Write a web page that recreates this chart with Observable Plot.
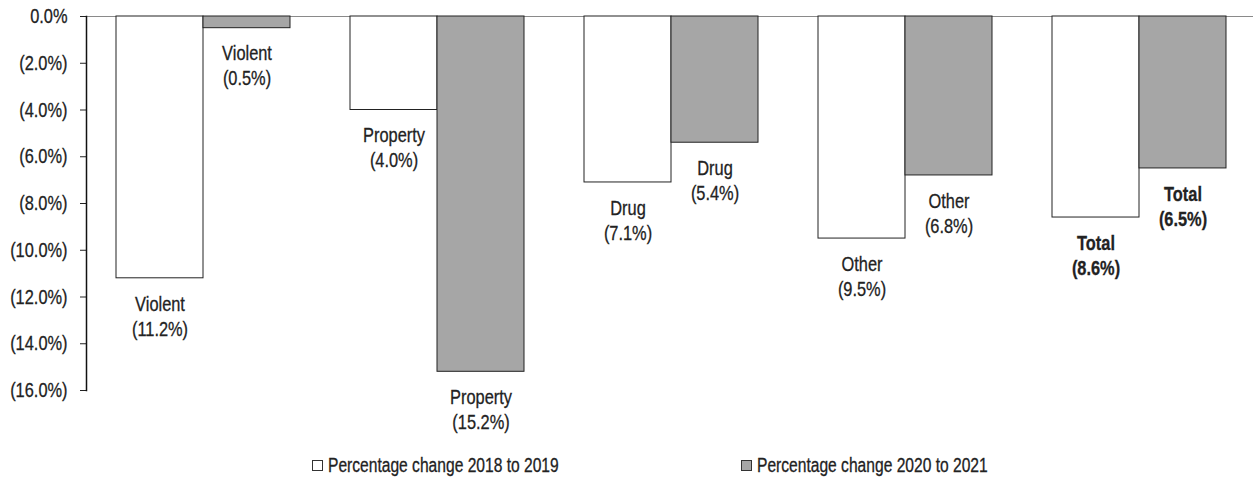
<!DOCTYPE html>
<html>
<head>
<meta charset="utf-8">
<script src="https://cdn.jsdelivr.net/npm/d3@7"></script>
<script src="https://cdn.jsdelivr.net/npm/@observablehq/plot@0.6"></script>
<style>
  html, body { margin: 0; padding: 0; background: #fff; }
  body { width: 1253px; height: 481px; overflow: hidden; font-family: "Liberation Sans", Arial, sans-serif; color: #222; }
  #chart { height: 440px; }
  #legend { position: relative; height: 41px; font-size: 20px; }
  .item { position: absolute; top: 14px; display: flex; align-items: center; white-space: nowrap; line-height: 22px; }
  .sw { width: 11px; height: 11px; border: 1px solid #333; margin-right: 5px; box-sizing: border-box; }
  .lt { display: inline-block; transform: scaleX(0.78); transform-origin: left center; -webkit-text-stroke: 0.3px #222; }
  svg text { stroke: #222; stroke-width: 0.3px; }
</style>
</head>
<body>
<div id="chart"></div>
<div id="legend"></div>
<script>
const categories = ["Violent", "Property", "Drug", "Other", "Total"];
const change2018to2019 = [-11.2, -4.0, -7.1, -9.5, -8.6];
const change2020to2021 = [-0.5, -15.2, -5.4, -6.8, -6.5];
const seriesNames = ["Percentage change 2018 to 2019", "Percentage change 2020 to 2021"];
const yTicks = [0, -2, -4, -6, -8, -10, -12, -14, -16];

const fills = ["#ffffff", "#a6a6a6"];
const rows = [];
categories.forEach((c, i) => {
  rows.push({cat: c, series: 0, value: change2018to2019[i]});
  rows.push({cat: c, series: 1, value: change2020to2021[i]});
});
const fmt = v => v === 0 ? "0.0%" : `(${Math.abs(v).toFixed(1)}%)`;
const half = 87;

const labelMarks = [];
[0, 1].forEach(s => {
  [false, true].forEach(isTotal => {
    labelMarks.push(Plot.text(rows.filter(d => d.series === s && (d.cat === "Total") === isTotal), {
      x: "cat", y: "value", dx: s === 0 ? -half/2 : half/2, dy: 14.5,
      lineAnchor: "top", lineHeight: 1.19,
      text: d => `${d.cat}\n${fmt(d.value)}`, fill: "#222",
      fontWeight: isTotal ? "bold" : "normal"
    }));
  });
});

const plot = Plot.plot({
  width: 1253,
  height: 440,
  marginLeft: 86,
  marginRight: -3,
  marginTop: 16,
  marginBottom: 50,
  style: {fontFamily: "'Liberation Sans', Arial, sans-serif", fontSize: "21px", color: "#222", background: "#fff"},
  x: {domain: categories, paddingInner: 60/234, paddingOuter: 30/234, axis: null},
  y: {domain: [-16, 0], axis: null},
  marks: [
    Plot.ruleY([0], {stroke: "#8a8a8a", strokeWidth: 1.2}),
    Plot.barY(rows.filter(d => d.series === 0), {x: "cat", y: "value", fill: fills[0], stroke: "#222", strokeWidth: 1, insetRight: half}),
    Plot.barY(rows.filter(d => d.series === 1), {x: "cat", y: "value", fill: fills[1], stroke: "#222", strokeWidth: 1, insetLeft: half}),
    ...labelMarks,
    Plot.axisY({ticks: yTicks, tickFormat: fmt, tickSize: 6, tickPadding: 13, stroke: "#222", fill: "#222", label: null}),
    Plot.frame({anchor: "left", stroke: "#111", strokeWidth: 1.5})
  ]
});
document.getElementById("chart").appendChild(plot);

// condense glyphs to mimic a narrow typeface
plot.querySelectorAll("text").forEach(t => {
  const spans = t.querySelectorAll("tspan");
  const targets = spans.length ? Array.from(spans) : [t];
  targets.forEach(el => {
    const L = el.getComputedTextLength();
    if (L > 0) {
      el.setAttribute("textLength", (L * 0.78).toFixed(2));
      el.setAttribute("lengthAdjust", "spacingAndGlyphs");
    }
  });
});

const legend = document.getElementById("legend");
const lefts = [312, 741];
seriesNames.forEach((name, i) => {
  const item = document.createElement("div");
  item.className = "item";
  item.style.left = lefts[i] + "px";
  const sw = document.createElement("span");
  sw.className = "sw";
  sw.style.background = fills[i];
  const t = document.createElement("span");
  t.className = "lt";
  t.textContent = name;
  item.appendChild(sw);
  item.appendChild(t);
  legend.appendChild(item);
});
</script>
</body>
</html>
